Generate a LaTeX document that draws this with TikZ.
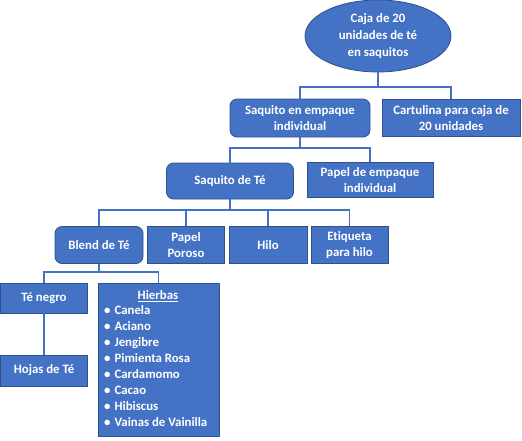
\documentclass[tikz,border=0pt]{standalone}
\usepackage{fontspec}
\setmainfont{Carlito}[Ligatures={NoCommon}]
\usetikzlibrary{shapes.geometric}
\definecolor{blueA}{HTML}{4472C4}
\definecolor{blueB}{HTML}{2F528F}
\tikzset{
  box/.style={rectangle, fill=blueA, draw=blueB, line width=0.8pt, text=white, align=center,
    inner sep=1pt, font=\fontsize{12.8}{16}\selectfont\bfseries},
  rbox/.style={box, rounded corners=7pt},
  conn/.style={draw=blueA, line width=1.6pt},
  txt/.style={text=white, inner sep=0pt, font=\fontsize{12.8}{16}\selectfont\bfseries}
}
\begin{document}
\begin{tikzpicture}[x=1pt,y=-1pt]
\useasboundingbox (0,0) rectangle (522,440);
% nodes
\node[box, ellipse, minimum width=146pt, minimum height=72pt, inner sep=0pt, font=\fontsize{12.8}{17}\selectfont\bfseries] (root) at (378,36) {Caja de 20\\unidades de té\\en saquitos};
\node[rbox, minimum width=140pt, minimum height=38pt] (sqe) at (300,118) {Saquito en empaque\\individual};
\node[box, minimum width=138pt, minimum height=37pt] (cart) at (451,118) {Cartulina para caja de\\20 unidades};
\node[rbox, minimum width=127pt, minimum height=36pt] (sqt) at (230,181) {Saquito de Té};
\node[box, minimum width=126pt, minimum height=35pt] (pemp) at (370,180) {Papel de empaque\\individual};
\node[rbox, minimum width=88pt, minimum height=37pt] (blend) at (99,245) {Blend de Té};
\node[box, minimum width=77pt, minimum height=37pt] (poroso) at (186,245) {Papel\\Poroso};
\node[box, minimum width=78pt, minimum height=37pt] (hilo) at (268,245) {Hilo};
\node[box, minimum width=77pt, minimum height=37pt] (etiq) at (349.5,245) {Etiqueta\\para hilo};
\node[box, minimum width=87pt, minimum height=30pt] (negro) at (44,298) {Té negro};
\node[box, minimum width=87pt, minimum height=31pt] (hojas) at (44,370.5) {Hojas de Té};
\node[box, minimum width=121pt, minimum height=153pt] (hierbas) at (158.5,359.5) {};
\node[txt, anchor=base] (hh) at (158,299.5) {\underline{Hierbas}};
\node[txt, anchor=north west, align=left] (hl) at (104,305.5) {%
\textbullet\hspace{4pt}Canela\\
\textbullet\hspace{4pt}Aciano\\
\textbullet\hspace{4pt}Jengibre\\
\textbullet\hspace{4pt}Pimienta Rosa\\
\textbullet\hspace{4pt}Cardamomo\\
\textbullet\hspace{4pt}Cacao\\
\textbullet\hspace{4pt}Hibiscus\\
\textbullet\hspace{4pt}Vainas de Vainilla};
% connectors
\coordinate (j1) at (378,87);
\draw[conn] (root.south) -- (j1);
\draw[conn] (j1) -| (sqe.north);
\draw[conn] (j1) -| (cart.north);
\coordinate (j2) at (300,148);
\draw[conn] (sqe.south) -- (j2);
\draw[conn] (j2) -| (sqt.north);
\draw[conn] (j2) -| (pemp.north);
\coordinate (j3) at (230,210);
\draw[conn] (sqt.south) -- (j3);
\draw[conn] (j3) -| (blend.north);
\draw[conn] (j3) -| (poroso.north);
\draw[conn] (j3) -| (hilo.north);
\draw[conn] (j3) -| (etiq.north);
\coordinate (j4) at (99,272);
\draw[conn] (blend.south) -- (j4);
\draw[conn] (j4) -| (negro.north);
\draw[conn] (j4) -| (hierbas.north);
\draw[conn] (negro.south) -- (hojas.north);
\end{tikzpicture}
\end{document}
